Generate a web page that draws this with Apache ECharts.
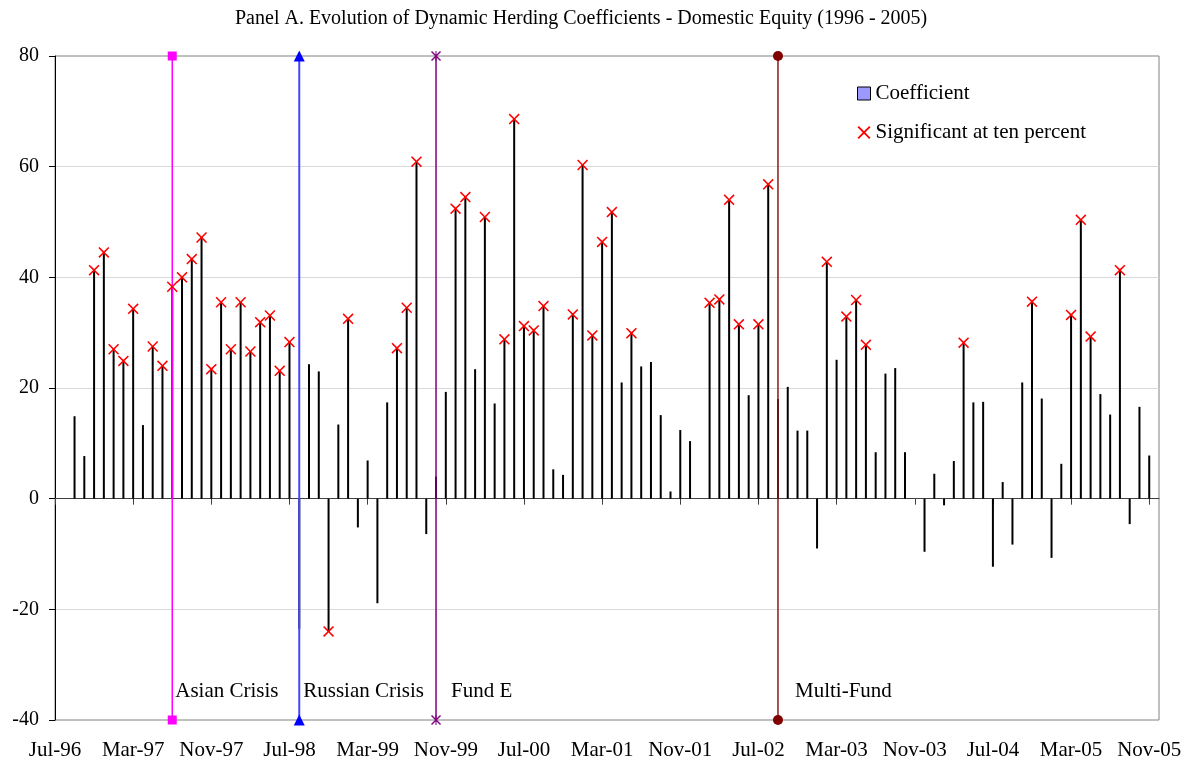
<!DOCTYPE html>
<html>
<head>
<meta charset="utf-8">
<script src="https://cdn.jsdelivr.net/npm/echarts@6/dist/echarts.min.js"></script>
<style>
  html, body { margin: 0; padding: 0; background: #fff; }
  #chart { width: 1193px; height: 763px; }
</style>
</head>
<body>
<div id="chart"></div>
<script>
// month categories Jul-96 .. Dec-05
const monthNames = ['Jan', 'Feb', 'Mar', 'Apr', 'May', 'Jun', 'Jul', 'Aug', 'Sep', 'Oct', 'Nov', 'Dec'];
const months = [];
for (let i = 0; i < 114; i++) {
  const m = (6 + i) % 12;
  const y = 1996 + Math.floor((6 + i) / 12);
  months.push(monthNames[m] + '-' + String(y % 100).padStart(2, '0'));
}

// dynamic herding coefficient, one value per month (null = no observation)
const coefficient = [
  null, null, 14.9, 7.7, 41.3, 44.5, 27.0, 24.9, 34.3, 13.3,
  27.5, 24.0, 38.3, 40.0, 43.3, 47.2, 23.4, 35.5, 27.0, 35.5,
  26.6, 31.9, 33.1, 23.1, 28.3, -23.5, 24.3, 23.0, -24.0, 13.4,
  32.5, -5.2, 6.9, -18.9, 17.4, 27.2, 34.5, 60.9, -6.4, 4.0,
  19.3, 52.4, 54.5, 23.4, 50.9, 17.2, 28.8, 68.6, 31.2, 30.4,
  34.8, 5.3, 4.3, 33.3, 60.3, 29.5, 46.4, 51.8, 21.0, 29.9,
  23.9, 24.7, 15.1, 1.3, 12.4, 10.4, null, 35.4, 36.0, 54.0,
  31.5, 18.7, 31.5, 56.8, 18.0, 20.2, 12.3, 12.3, -9.0, 42.8,
  25.1, 32.9, 35.9, 27.8, 8.4, 22.6, 23.6, 8.4, null, -9.6,
  4.5, -1.2, 6.8, 28.2, 17.4, 17.5, -12.3, 3.0, -8.3, 21.0,
  35.6, 18.1, -10.7, 6.3, 33.2, 50.4, 29.3, 18.9, 15.2, 41.3,
  -4.6, 16.6, 7.8, null
];

// months whose coefficient is significant at ten percent (index into months)
const significantIdx = [
  4, 5, 6, 7, 8, 10, 11, 12, 13, 14, 15, 16, 17, 18, 19, 20, 21, 22, 23, 24,
  28, 30, 35, 36, 37, 41, 42, 44, 46, 47, 48, 49, 50, 53, 54, 55, 56, 57, 59,
  67, 68, 69, 70, 72, 73, 79, 81, 82, 83, 93, 100, 104, 105, 106, 109
];

// events marked by vertical lines
const eventNames = ['Asian Crisis', 'Russian Crisis', 'Fund E', 'Multi-Fund'];
const eventMonths = ['Jul-97', 'Aug-98', 'Oct-99', 'Sep-02'];
const yTicks = [-40, -20, 0, 20, 40, 60, 80];
const eventLabelLevel = -34.8;

const FONT = '"Liberation Serif", "Times New Roman", serif';
const xPath = 'path://M0,1 L1,0 L5,4 L9,0 L10,1 L6,5 L10,9 L9,10 L5,6 L1,10 L0,9 L4,5 Z';
const starPath = 'path://M0,1 L1,0 L4.5,3.5 L4.5,0 L5.5,0 L5.5,3.5 L9,0 L10,1 L6,5 L10,9 L9,10 L5.5,6.5 L5.5,10 L4.5,10 L4.5,6.5 L1,10 L0,9 L4,5 Z';

// line look for each event (kept apart from the data)
const eventLook = [
  { line: '#ff00ff', mark: '#ff00ff', symbol: 'rect', size: 9, width: 1.5, dist: 3 },
  { line: '#4646ff', mark: '#0000ff', symbol: 'triangle', size: 11, width: 2, dist: 4 },
  { line: '#800080', mark: '#800080', symbol: starPath, size: 10, width: 1.5, dist: 15 },
  { line: '#8b1a1a', mark: '#800000', symbol: 'circle', size: 10, width: 1.5, dist: 17 }
];

const yMin = yTicks[0], yMax = yTicks[yTicks.length - 1];

const eventSeries = eventNames.map((name, i) => {
  const idx = months.indexOf(eventMonths[i]);
  const look = eventLook[i];
  return {
    name: name,
    type: 'line',
    xAxisIndex: 0,
    z: 3,
    data: [[idx, yMin], [idx, yMax]],
    symbol: look.symbol,
    symbolSize: look.size,
    showAllSymbol: true,
    lineStyle: { color: look.line, width: look.width },
    itemStyle: { color: look.mark },
    silent: true
  };
});

const labelSeries = {
  name: 'events',
  type: 'scatter',
  xAxisIndex: 0,
  symbolSize: 0,
  z: 5,
  silent: true,
  itemStyle: { opacity: 1 },
  data: eventNames.map((name, i) => ({
    value: [months.indexOf(eventMonths[i]), eventLabelLevel],
    name: name,
    label: { distance: eventLook[i].dist }
  })),
  label: {
    show: true,
    position: 'right',
    formatter: p => p.name,
    color: '#000',
    fontFamily: FONT,
    fontSize: 21
  }
};

const sigData = coefficient.map((v, i) => (significantIdx.indexOf(i) >= 0 ? v : null));

const chart = echarts.init(document.getElementById('chart'));
chart.setOption({
  animation: false,
  backgroundColor: '#fff',
  title: {
    text: 'Panel A. Evolution of Dynamic Herding Coefficients - Domestic Equity (1996 - 2005)',
    left: 230,
    top: 4,
    textStyle: { fontFamily: FONT, fontSize: 20, fontWeight: 'normal', color: '#000' }
  },
  legend: {
    orient: 'vertical',
    left: 857,
    top: 83,
    padding: 0,
    itemWidth: 13,
    itemHeight: 13,
    itemGap: 18,
    textStyle: { fontFamily: FONT, fontSize: 21, color: '#000' },
    data: [
      { name: 'Coefficient', icon: 'rect', itemStyle: { color: '#9999ff', borderColor: '#000', borderWidth: 1 } },
      { name: 'Significant at ten percent', icon: xPath, itemStyle: { color: '#ff0000' } }
    ]
  },
  grid: {
    left: 55, right: 34, top: 56, bottom: 43,
    show: true, borderColor: '#808080', borderWidth: 1
  },
  xAxis: [
    {
      type: 'category',
      data: months,
      boundaryGap: false,
      position: 'bottom',
      axisLine: { onZero: true, lineStyle: { color: '#404040', width: 1 } },
      axisTick: { show: true, interval: 7, length: 6, lineStyle: { color: '#404040' } },
      axisLabel: { show: false },
      splitLine: { show: false }
    },
    {
      type: 'category',
      data: months,
      boundaryGap: false,
      position: 'bottom',
      axisLine: { show: false, onZero: false },
      axisTick: { show: false },
      axisLabel: { interval: 7, fontFamily: FONT, fontSize: 21, color: '#000', margin: 20 },
      splitLine: { show: false }
    }
  ],
  yAxis: {
    type: 'value',
    min: yMin,
    max: yMax,
    interval: 20,
    axisLine: { show: true, lineStyle: { color: '#000' } },
    axisTick: { show: true, length: 6, lineStyle: { color: '#000' } },
    axisLabel: { fontFamily: FONT, fontSize: 20, color: '#000', margin: 16 },
    splitLine: { show: true, showMinLine: false, showMaxLine: false, lineStyle: { color: '#d9d9d9' } }
  },
  series: [
    {
      name: 'Coefficient',
      type: 'bar',
      xAxisIndex: 0,
      barWidth: 2,
      z: 2,
      itemStyle: { color: '#000' },
      data: coefficient
    },
    ...eventSeries,
    labelSeries,
    {
      name: 'Significant at ten percent',
      type: 'scatter',
      xAxisIndex: 0,
      symbol: xPath,
      symbolSize: 11,
      z: 6,
      itemStyle: { color: '#ff0000', opacity: 1 },
      data: sigData
    }
  ]
});
</script>
</body>
</html>
